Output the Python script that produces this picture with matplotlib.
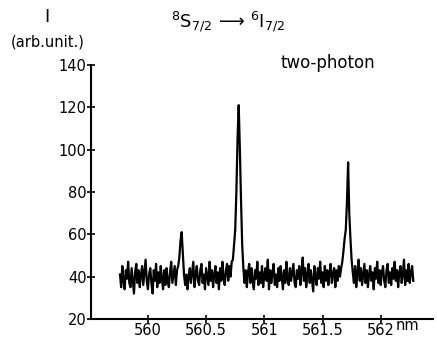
import matplotlib
matplotlib.use('Agg')
import matplotlib.pyplot as plt
import numpy as np

# wavelength grid (nm), 0.01 nm step
wl_start, wl_step = 559.76, 0.01

# intensity (arb. unit)
intensity = [
    41, 35, 45, 38, 34, 43, 39, 47, 37, 35,
    44, 38, 32, 42, 46, 37, 43, 35, 41, 45,
    36, 42, 48, 38, 34, 41, 44, 37, 32, 43,
    38, 46, 35, 42, 37, 45, 39, 34, 43, 36,
    44, 38, 35, 42, 47, 37, 41, 45, 36, 43,
    45, 49, 57, 61, 51, 41, 36, 41, 34, 40,
    44, 37, 42, 47, 35, 41, 45, 38, 36, 43,
    46, 37, 41, 34, 44, 40, 36, 47, 38, 43,
    35, 41, 45, 37, 42, 34, 44, 38, 47, 39,
    36, 43, 46, 38, 45, 40, 47, 48, 55, 62,
    80, 105, 121, 100, 76, 55, 44, 37, 43, 35,
    42, 46, 37, 44, 38, 34, 43, 39, 47, 36,
    42, 37, 45, 35, 41, 44, 38, 48, 34, 43,
    37, 42, 46, 36, 41, 35, 44, 38, 45, 40,
    34, 43, 37, 47, 39, 36, 44, 38, 42, 46,
    37, 35, 43, 39, 45, 36, 42, 49, 38, 44,
    35, 41, 46, 37, 43, 38, 33, 45, 40, 36,
    44, 39, 47, 37, 42, 35, 45, 38, 43, 36,
    42, 46, 37, 41, 44, 35, 43, 38, 45, 40,
    44, 47, 52, 58, 62, 75, 94, 70, 58, 48,
    42, 37, 45, 35, 42, 48, 38, 44, 36, 41,
    46, 37, 43, 35, 41, 45, 38, 42, 34, 44,
    39, 47, 37, 43, 36, 42, 45, 38, 35, 43,
    46, 37, 42, 36, 44, 39, 47, 38, 43, 35,
    42, 45, 37, 41, 48, 36, 43, 38, 46, 37,
    42, 45, 38,
]
wavelength = wl_start + wl_step * np.arange(len(intensity))

x_ticks = [560, 560.5, 561, 561.5, 562]
x_labels = ['560', '560.5', '561', '561.5', '562']
y_ticks = [20, 40, 60, 80, 100, 120, 140]

plt.rcParams['mathtext.fontset'] = 'dejavusans'

fig = plt.figure(figsize=(4.37, 3.40), dpi=100)
ax = fig.add_axes([0.208, 0.062, 0.783, 0.747])

ax.plot(wavelength, intensity, color='black', lw=1.6)

ax.set_xlim(559.51, 562.45)
ax.set_ylim(20, 140)
ax.set_xticks(x_ticks)
ax.set_xticklabels(x_labels)
ax.set_yticks(y_ticks)
ax.spines['top'].set_visible(False)
ax.spines['right'].set_visible(False)
ax.spines['left'].set_linewidth(1.5)
ax.spines['bottom'].set_linewidth(1.5)
ax.tick_params(direction='inout', length=6, width=1.2, labelsize=10.5, pad=0)

fig.text(47 / 437, 1 - 17 / 340, 'I', fontsize=13, ha='center', va='center')
fig.text(48 / 437, 1 - 42 / 340, '(arb.unit.)', fontsize=10.5, ha='center', va='center')
fig.text(228 / 437, 1 - 22 / 340,
         r'$^8\mathrm{S}_{7/2}\,\longrightarrow\,^6\mathrm{I}_{7/2}$',
         fontsize=13, ha='center', va='center')
fig.text(328 / 437, 1 - 63 / 340, 'two-photon', fontsize=12, ha='center', va='center')
fig.text(407 / 437, 1 - 326 / 340, 'nm', fontsize=10.5, ha='center', va='center')

fig.savefig('out.png', dpi=100)
